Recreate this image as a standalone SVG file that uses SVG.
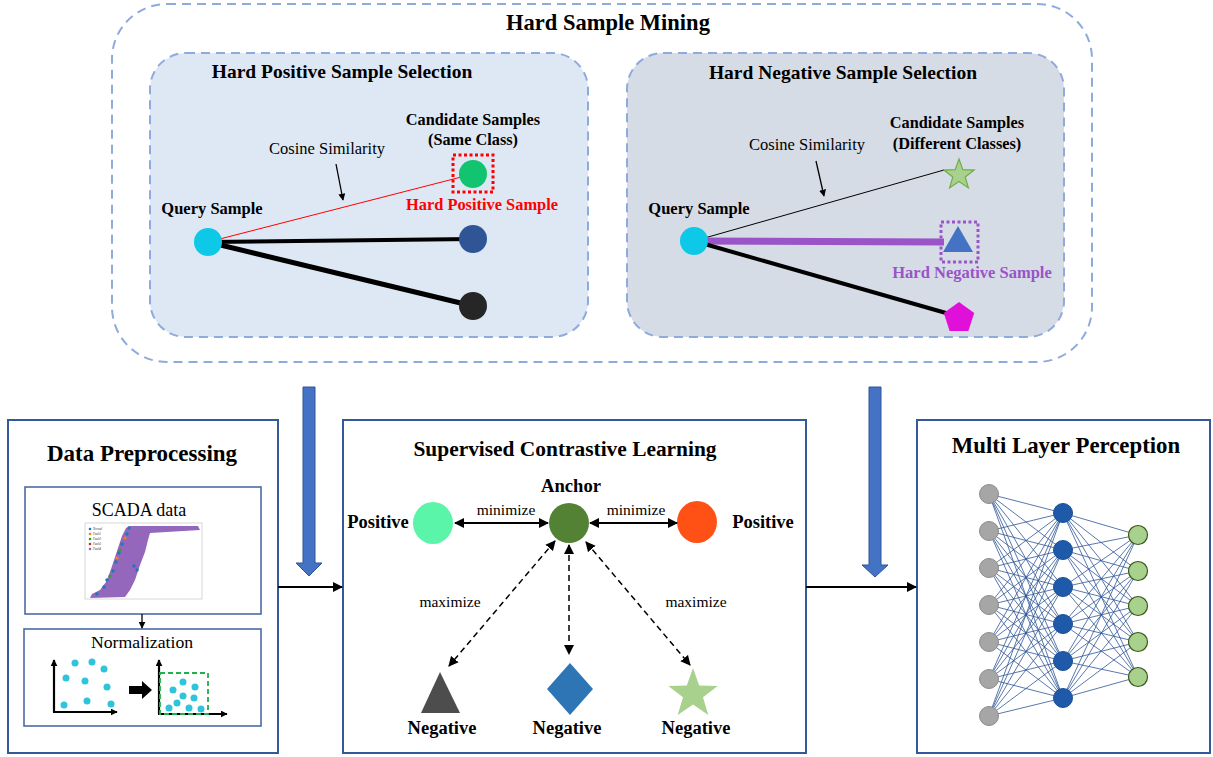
<svg xmlns="http://www.w3.org/2000/svg" width="1213" height="757" viewBox="0 0 1213 757">
<style>
.t{font-family:"Liberation Serif","Times New Roman",serif;fill:#000;text-anchor:middle}
.b{font-weight:bold}
.dash{fill:none;stroke:#8FAADC;stroke-width:2;stroke-dasharray:9 6}
.box{fill:#fff;stroke:#34589B;stroke-width:2}
.sub{fill:#fff;stroke:#4A6BA8;stroke-width:1.6}
.ln{stroke:#000;fill:none}
.nn{stroke:#2F5597;stroke-width:0.8;fill:none}
.big{fill:#4472C4;stroke:#2F5597;stroke-width:1}
.dot{fill:#2EC4DB}
</style>
<defs>
<marker id="ah" viewBox="0 0 10 10" refX="9" refY="5" markerWidth="7" markerHeight="7" orient="auto-start-reverse" markerUnits="userSpaceOnUse">
<path d="M0,0 L10,5 L0,10 z" fill="#000"/>
</marker>
<marker id="ah2" viewBox="0 0 10 10" refX="9" refY="5" markerWidth="10" markerHeight="10" orient="auto-start-reverse" markerUnits="userSpaceOnUse">
<path d="M0,0 L10,5 L0,10 z" fill="#000"/>
</marker>
</defs>
<rect width="1213" height="757" fill="#fff"/>

<g id="hard-sample-mining">
<rect class="dash" x="112" y="4" width="980" height="358" rx="55"/>
<text class="t b" x="608" y="30" font-size="22.5">Hard Sample Mining</text>
</g>

<g id="hard-positive">
<rect x="150" y="53" width="438" height="284" rx="36" fill="#DEE8F4" stroke="#8FAADC" stroke-width="2" stroke-dasharray="9 6"/>
<text class="t b" x="342" y="78" font-size="19.5">Hard Positive Sample Selection</text>
<text class="t b" x="473" y="125" font-size="16.3">Candidate Samples</text>
<text class="t b" x="473" y="145" font-size="16.3">(Same Class)</text>
<text class="t" x="327" y="154" font-size="16.5">Cosine Similarity</text>
<line class="ln" x1="336" y1="164" x2="343" y2="200" stroke-width="1.3" marker-end="url(#ah)"/>
<line x1="208" y1="242" x2="473" y2="174" stroke="#FF0000" stroke-width="1"/>
<line class="ln" x1="208" y1="242" x2="473" y2="239" stroke-width="4"/>
<line class="ln" x1="208" y1="242" x2="473" y2="306" stroke-width="5"/>
<rect x="453" y="155" width="40" height="37" fill="none" stroke="#FF0000" stroke-width="3" stroke-dasharray="3 2.5"/>
<circle cx="473" cy="174" r="14" fill="#12C370"/>
<circle cx="473" cy="239" r="14" fill="#2F5597"/>
<circle cx="473" cy="306" r="14" fill="#262626"/>
<circle cx="208" cy="242" r="14" fill="#0DC8E6"/>
<text class="t b" x="482" y="210" font-size="16.4" style="fill:#FF0000">Hard Positive Sample</text>
<text class="t b" x="212" y="214" font-size="16.5">Query Sample</text>
</g>

<g id="hard-negative">
<rect x="627" y="53" width="437" height="284" rx="36" fill="#D6DCE5" stroke="#8FAADC" stroke-width="2" stroke-dasharray="9 6"/>
<text class="t b" x="843" y="79" font-size="19.5">Hard Negative Sample Selection</text>
<text class="t b" x="957" y="128" font-size="16.3">Candidate Samples</text>
<text class="t b" x="957" y="149" font-size="16.3">(Different Classes)</text>
<text class="t" x="807" y="150" font-size="16.5">Cosine Similarity</text>
<line class="ln" x1="816" y1="161" x2="824" y2="196" stroke-width="1.3" marker-end="url(#ah)"/>
<line class="ln" x1="694" y1="241" x2="944" y2="170" stroke-width="1"/>
<line x1="694" y1="241" x2="944" y2="242" stroke="#9954C8" stroke-width="7"/>
<line class="ln" x1="694" y1="241" x2="946" y2="313" stroke-width="4"/>
<polygon points="959,159 962.8,169.7 974.2,170.1 965.2,177 968.4,187.9 959,181.5 949.6,187.9 952.8,177 943.8,170.1 955.2,169.7" fill="#A9D18E" stroke="#70AD47" stroke-width="1.2"/>
<rect x="941" y="222" width="37" height="40" fill="none" stroke="#9954C8" stroke-width="3" stroke-dasharray="3 2.5"/>
<polygon points="958,226 973,252 943,252" fill="#4472C4"/>
<polygon points="959,302 974.2,313.1 968.4,330.9 949.6,330.9 943.8,313.1" fill="#E010D8"/>
<circle cx="694" cy="241" r="14" fill="#0DC8E6"/>
<text class="t b" x="699" y="214" font-size="16.5">Query Sample</text>
<text class="t b" x="972" y="278" font-size="16.5" style="fill:#9954C8">Hard Negative Sample</text>
</g>

<g id="data-preprocessing">
<rect class="box" x="8" y="420" width="270" height="333"/>
<text class="t b" x="142" y="461" font-size="23">Data Preprocessing</text>
<rect class="sub" x="25" y="487" width="236" height="127"/>
<text class="t" x="139" y="516" font-size="18">SCADA data</text>
<g id="scada-plot">
<rect x="85" y="523" width="117" height="76" fill="#fff" stroke="#bbb" stroke-width="0.6"/>
<path d="M90,598 L92,594 L100,590 L106,582 L110,572 L114,560 L118,548 L122,536 L126,528 L130,526 L198,526 L200,530 L150,533 L148,540 L145,552 L140,565 L135,580 L130,590 L125,597 Z" fill="#9467BD"/>
<g fill="#1F77B4">
<circle cx="129" cy="528" r="1.7"/><circle cx="127" cy="534" r="1.7"/><circle cx="122" cy="544" r="1.7"/><circle cx="119" cy="553" r="1.7"/><circle cx="116" cy="562" r="1.7"/><circle cx="113" cy="571" r="1.7"/><circle cx="107" cy="580" r="1.7"/><circle cx="104" cy="587" r="1.7"/><circle cx="97" cy="594" r="1.7"/><circle cx="134" cy="566" r="1.7"/><circle cx="137" cy="570" r="1.7"/>
</g>
<circle cx="125" cy="538" r="1.5" fill="#FF7F0E"/><circle cx="117" cy="558" r="1.5" fill="#FF7F0E"/><circle cx="120" cy="550" r="1.5" fill="#2CA02C"/><circle cx="110" cy="576" r="1.5" fill="#2CA02C"/>
<circle cx="90" cy="529" r="1.3" fill="#1F77B4"/><circle cx="90" cy="534" r="1.3" fill="#FF7F0E"/><circle cx="90" cy="539" r="1.3" fill="#2CA02C"/><circle cx="90" cy="544" r="1.3" fill="#D62728"/><circle cx="90" cy="549" r="1.3" fill="#9467BD"/>
<g font-family="Liberation Serif,serif" font-style="italic" font-size="3" fill="#333">
<text x="93" y="530">Normal</text><text x="93" y="535">Fault1</text><text x="93" y="540">Fault2</text><text x="93" y="545">Fault3</text><text x="93" y="550">Fault4</text>
</g>
</g>
<rect class="sub" x="24" y="629" width="237" height="97"/>
<text class="t" x="142" y="648" font-size="17.7">Normalization</text>
<g id="norm-before">
<line class="ln" x1="54" y1="712" x2="54" y2="660" stroke-width="2.2" marker-end="url(#ah)"/>
<line class="ln" x1="53" y1="712" x2="117" y2="712" stroke-width="2.2" marker-end="url(#ah)"/>
<circle class="dot" cx="75" cy="663" r="3.5"/><circle class="dot" cx="92" cy="662" r="3.5"/><circle class="dot" cx="104" cy="669" r="3.5"/><circle class="dot" cx="66" cy="678" r="3.5"/><circle class="dot" cx="85" cy="681" r="3.5"/><circle class="dot" cx="107" cy="687" r="3.5"/><circle class="dot" cx="64" cy="705" r="3.5"/><circle class="dot" cx="87" cy="701" r="3.5"/><circle class="dot" cx="111" cy="704" r="3.5"/>
</g>
<polygon points="129,686 142,686 142,681 152,690 142,699 142,694 129,694" fill="#000"/>
<g id="norm-after">
<line class="ln" x1="159" y1="714" x2="159" y2="660" stroke-width="2.2" marker-end="url(#ah)"/>
<line class="ln" x1="158" y1="714" x2="227" y2="714" stroke-width="2.2" marker-end="url(#ah)"/>
<rect x="160" y="673" width="48" height="41" fill="none" stroke="#22B04B" stroke-width="1.8" stroke-dasharray="5 3"/>
<circle class="dot" cx="183" cy="682" r="3.5"/><circle class="dot" cx="195" cy="687" r="3.5"/><circle class="dot" cx="173" cy="690" r="3.5"/><circle class="dot" cx="183" cy="696" r="3.5"/><circle class="dot" cx="194" cy="698" r="3.5"/><circle class="dot" cx="177" cy="703" r="3.5"/><circle class="dot" cx="169" cy="708" r="3.5"/><circle class="dot" cx="189" cy="708" r="3.5"/><circle class="dot" cx="201" cy="709" r="3.5"/>
</g>
</g>

<g id="supervised-contrastive-learning">
<rect class="box" x="343" y="420" width="463" height="333"/>
<text class="t b" x="565" y="456" font-size="21.4">Supervised Contrastive Learning</text>
<text class="t b" x="571" y="492" font-size="18.6">Anchor</text>
<circle cx="569" cy="523" r="20" fill="#548235"/>
<ellipse cx="433" cy="523" rx="20" ry="21" fill="#5AF5A8"/>
<ellipse cx="697" cy="522" rx="20" ry="21" fill="#FF5115"/>
<text class="t b" x="378" y="528" font-size="18.5">Positive</text>
<text class="t b" x="763" y="528" font-size="18.5">Positive</text>
<text class="t" x="506" y="515" font-size="15.5">minimize</text>
<text class="t" x="636" y="515" font-size="15.5">minimize</text>
<text class="t" x="450" y="607" font-size="15.5">maximize</text>
<text class="t" x="696" y="607" font-size="15.5">maximize</text>
<polygon points="440,672 460,713 421,713" fill="#4D4D4D"/>
<polygon points="570,663 593,689 570,715 547,689" fill="#2E75B6"/>
<polygon points="693,668 699.2,685.5 717.7,686 703,697.2 708.3,715 693,704.5 677.7,715 683,697.2 668.3,686 686.8,685.5" fill="#A9D18E"/>
<text class="t b" x="442" y="734" font-size="18.5">Negative</text>
<text class="t b" x="567" y="734" font-size="18.5">Negative</text>
<text class="t b" x="696" y="734" font-size="18.5">Negative</text>
</g>

<g id="multi-layer-perception">
<rect class="box" x="917" y="420" width="293" height="333"/>
<text class="t b" x="1066" y="453" font-size="22.8">Multi Layer Perception</text>
<path class="nn" d="M989 494L1063 513M989 494L1063 550M989 494L1063 587M989 494L1063 624M989 494L1063 661M989 494L1063 698
M989 531L1063 513M989 531L1063 550M989 531L1063 587M989 531L1063 624M989 531L1063 661M989 531L1063 698
M989 568L1063 513M989 568L1063 550M989 568L1063 587M989 568L1063 624M989 568L1063 661M989 568L1063 698
M989 605L1063 513M989 605L1063 550M989 605L1063 587M989 605L1063 624M989 605L1063 661M989 605L1063 698
M989 642L1063 513M989 642L1063 550M989 642L1063 587M989 642L1063 624M989 642L1063 661M989 642L1063 698
M989 679L1063 513M989 679L1063 550M989 679L1063 587M989 679L1063 624M989 679L1063 661M989 679L1063 698
M989 716L1063 513M989 716L1063 550M989 716L1063 587M989 716L1063 624M989 716L1063 661M989 716L1063 698
M1063 513L1138 535M1063 513L1138 571M1063 513L1138 606M1063 513L1138 642M1063 513L1138 677
M1063 550L1138 535M1063 550L1138 571M1063 550L1138 606M1063 550L1138 642M1063 550L1138 677
M1063 587L1138 535M1063 587L1138 571M1063 587L1138 606M1063 587L1138 642M1063 587L1138 677
M1063 624L1138 535M1063 624L1138 571M1063 624L1138 606M1063 624L1138 642M1063 624L1138 677
M1063 661L1138 535M1063 661L1138 571M1063 661L1138 606M1063 661L1138 642M1063 661L1138 677
M1063 698L1138 535M1063 698L1138 571M1063 698L1138 606M1063 698L1138 642M1063 698L1138 677"/>
<g fill="#A6A6A6" stroke="#8C8C8C" stroke-width="1">
<circle cx="989" cy="494" r="9.5"/><circle cx="989" cy="531" r="9.5"/><circle cx="989" cy="568" r="9.5"/><circle cx="989" cy="605" r="9.5"/><circle cx="989" cy="642" r="9.5"/><circle cx="989" cy="679" r="9.5"/><circle cx="989" cy="716" r="9.5"/>
</g>
<g fill="#1F5AAA" stroke="#1A4F96" stroke-width="1">
<circle cx="1063" cy="513" r="9.5"/><circle cx="1063" cy="550" r="9.5"/><circle cx="1063" cy="587" r="9.5"/><circle cx="1063" cy="624" r="9.5"/><circle cx="1063" cy="661" r="9.5"/><circle cx="1063" cy="698" r="9.5"/>
</g>
<g fill="#A9D18E" stroke="#38571A" stroke-width="1.2">
<circle cx="1138" cy="535" r="9.5"/><circle cx="1138" cy="571" r="9.5"/><circle cx="1138" cy="606" r="9.5"/><circle cx="1138" cy="642" r="9.5"/><circle cx="1138" cy="677" r="9.5"/>
</g>
</g>

<g id="connectors">
<line class="ln" x1="142" y1="614" x2="142" y2="628" stroke-width="1.3" marker-end="url(#ah)"/>
<line class="ln" x1="278" y1="587" x2="342" y2="587" stroke-width="1.8" marker-end="url(#ah2)"/>
<line class="ln" x1="806" y1="587" x2="916" y2="587" stroke-width="1.8" marker-end="url(#ah2)"/>
<polygon class="big" points="303,387 315,387 315,563 322,563 309,576 296,563 303,563"/>
<polygon class="big" points="869,387 881,387 881,565 888,565 875,577 862,565 869,565"/>
<line class="ln" x1="455" y1="523" x2="548" y2="523" stroke-width="1.8" marker-start="url(#ah2)" marker-end="url(#ah2)"/>
<line class="ln" x1="590" y1="523" x2="677" y2="523" stroke-width="1.8" marker-start="url(#ah2)" marker-end="url(#ah2)"/>
<line class="ln" x1="555" y1="541" x2="449" y2="666" stroke-width="1.5" stroke-dasharray="6 4" marker-start="url(#ah2)" marker-end="url(#ah2)"/>
<line class="ln" x1="569" y1="545" x2="569" y2="654" stroke-width="1.5" stroke-dasharray="6 4" marker-start="url(#ah2)" marker-end="url(#ah2)"/>
<line class="ln" x1="586" y1="542" x2="690" y2="665" stroke-width="1.5" stroke-dasharray="6 4" marker-start="url(#ah2)" marker-end="url(#ah2)"/>
</g>
</svg>
